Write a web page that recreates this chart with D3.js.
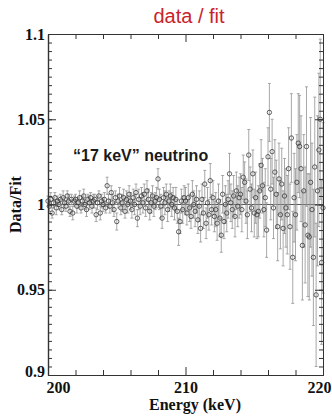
<!DOCTYPE html>
<html>
<head>
<meta charset="utf-8">
<script src="https://cdn.jsdelivr.net/npm/d3@7"></script>
<style>
  body { margin: 0; background: #fff; }
  svg { display: block; }
</style>
</head>
<body>
<svg id="chart"></svg>
<script>
// energy grid (keV)
const eStart = 200;
const eStep = 0.1;

// data / fit ratio, one value per 0.1 keV bin
const ratio = [
  1.002, 0.999, 1.003, 0.995, 1.001, 1.004, 0.998, 1.002, 1.000, 1.003,
  0.997, 1.004, 1.001, 0.999, 1.005, 1.002, 0.996, 1.003, 0.995, 1.002,
  1.003, 0.999, 1.001, 1.004, 0.998, 1.002, 1.005, 1.000, 0.997, 1.003,
  1.001, 1.004, 0.999, 1.002, 1.003, 0.994, 1.001, 1.005, 0.995, 1.002,
  1.000, 1.003, 0.998, 1.011, 1.002, 0.999, 1.007, 1.001, 0.997, 1.004,
  0.990, 1.002, 1.005, 0.998, 1.001, 1.004, 0.996, 1.003, 1.000, 1.006,
  1.002, 0.997, 1.004, 1.000, 1.007, 0.992, 1.003, 0.999, 1.005, 1.001,
  1.006, 0.998, 1.008, 1.003, 0.996, 1.001, 1.005, 0.999, 1.002, 1.004,
  1.015, 1.003, 0.999, 0.992, 1.004, 1.001, 1.006, 0.997, 1.002, 1.005,
  1.000, 1.004, 0.998, 1.003, 0.996, 0.984, 0.990, 1.002, 0.997, 1.004,
  1.002, 0.995, 1.004, 0.998, 0.993, 1.006, 1.000, 0.996, 1.003, 0.991,
  0.999, 0.986, 1.003, 0.995, 1.012, 0.989, 1.001, 0.994, 1.014, 0.997,
  1.004, 0.993, 0.997, 0.989, 1.002, 0.992, 0.982, 1.006, 0.990, 1.000,
  0.995, 1.003, 1.018, 1.001, 0.997, 1.005, 0.993, 1.008, 0.999, 1.004,
  1.006, 0.997, 1.016, 1.013, 1.002, 0.994, 1.029, 1.009, 0.998, 1.018,
  0.995, 1.004, 0.994, 0.996, 1.008, 1.023, 1.011, 0.997, 1.004, 0.985,
  1.028, 1.054, 1.009, 1.031, 0.998, 1.019, 1.006, 0.987, 1.015, 0.994,
  1.012, 0.986, 1.005, 0.998, 0.994, 1.021, 0.987, 1.039, 0.969, 1.004,
  0.994, 1.013, 1.036, 1.034, 1.021, 0.976, 1.008, 0.988, 1.034, 0.982,
  0.981, 1.013, 0.997, 0.969, 1.022, 0.947, 1.008, 1.032, 1.050, 0.966, 0.998
];

// half length of the error bars
const errs = [
  .003, .003, .004, .003, .003, .003, .004, .003, .003, .003,
  .003, .004, .003, .003, .003, .004, .003, .003, .004, .003,
  .003, .004, .003, .004, .003, .003, .004, .003, .004, .003,
  .004, .003, .004, .004, .003, .004, .004, .003, .004, .004,
  .004, .004, .003, .005, .004, .004, .004, .005, .004, .004,
  .005, .004, .005, .004, .005, .005, .004, .005, .005, .005,
  .005, .005, .005, .006, .005, .005, .006, .005, .005, .006,
  .006, .005, .006, .006, .005, .006, .006, .006, .005, .006,
  .006, .006, .007, .006, .006, .007, .006, .007, .006, .007,
  .007, .006, .007, .007, .007, .008, .007, .007, .008, .007,
  .008, .007, .008, .008, .007, .008, .008, .009, .008, .008,
  .009, .008, .009, .009, .008, .009, .009, .009, .010, .009,
  .010, .009, .010, .010, .010, .011, .010, .011, .010, .011,
  .011, .011, .012, .011, .011, .012, .012, .011, .012, .012,
  .012, .013, .013, .012, .013, .014, .015, .013, .014, .014,
  .014, .015, .014, .015, .016, .015, .016, .016, .017, .016,
  .017, .017, .018, .019, .018, .019, .020, .020, .021, .020,
  .021, .022, .022, .023, .023, .024, .025, .026, .027, .026,
  .027, .028, .029, .030, .031, .032, .033, .034, .035, .036,
  .037, .038, .039, .040, .041, .042, .044, .045, .047, .048, .050
];

const xTicks = [200, 210, 220];
const yTicks = [0.9, 0.95, 1, 1.05, 1.1];
const yTickLabels = ['0.9', '0.95', '1', '1.05', '1.1'];

const vWidth = 332;
const vHeight = 416;
const mLeft = 48, mRight = 323, mTop = 34, mBottom = 375;

const svg = d3.select('#chart')
  .attr('width', vWidth)
  .attr('height', vHeight);

const x = d3.scaleLinear().domain([200, 220]).range([mLeft, mRight]);
const y = d3.scaleLinear().domain([0.9, 1.1]).range([mBottom, mTop]);

const points = ratio.map(function (r, i) {
  return { e: eStart + i * eStep, r: r, err: errs[i] };
});

// title
svg.append('text')
  .attr('x', 189).attr('y', 23)
  .attr('text-anchor', 'middle')
  .style('font-family', 'Liberation Sans, Arial, sans-serif')
  .style('font-size', '20px')
  .style('fill', '#c8232c')
  .text('data / fit');

// reference line at 1
svg.append('line')
  .attr('x1', mLeft).attr('x2', mRight)
  .attr('y1', y(1)).attr('y2', y(1))
  .style('stroke', '#555')
  .style('stroke-width', 1);

// error bars
const bars = svg.append('g').attr('class', 'bars');
bars.selectAll('line.v')
  .data(points)
  .enter().append('line')
  .attr('class', 'v')
  .attr('x1', d => x(d.e)).attr('x2', d => x(d.e))
  .attr('y1', d => y(d.r - d.err)).attr('y2', d => y(d.r + d.err))
  .style('stroke', '#939393')
  .style('stroke-width', 0.8);

[-1, 1].forEach(function (s) {
  bars.selectAll('line.cap' + (s > 0 ? 'u' : 'd'))
    .data(points)
    .enter().append('line')
    .attr('class', 'cap' + (s > 0 ? 'u' : 'd'))
    .attr('x1', d => x(d.e) - 1.5).attr('x2', d => x(d.e) + 1.5)
    .attr('y1', d => y(d.r + s * d.err)).attr('y2', d => y(d.r + s * d.err))
    .style('stroke', '#939393')
    .style('stroke-width', 0.8);
});

// markers
svg.append('g').selectAll('circle')
  .data(points)
  .enter().append('circle')
  .attr('cx', d => x(d.e))
  .attr('cy', d => y(d.r))
  .attr('r', 2.2)
  .style('fill', 'none')
  .style('stroke', '#3a3a3a')
  .style('stroke-width', 0.8);

// frame + inward ticks
function styleAxis(g) {
  g.selectAll('path, line').style('stroke', '#333').style('stroke-width', 1);
  g.selectAll('text')
    .style('font-family', 'Liberation Serif, Times New Roman, serif')
    .style('font-weight', 'bold')
    .style('font-size', '16px')
    .style('fill', '#111');
}

const xMinor = d3.range(202, 220, 2).filter(v => v !== 210);
const yMinor = d3.range(0, 41).map(i => 0.9 + i * 0.005);

// bottom
svg.append('g')
  .attr('transform', 'translate(0,' + mBottom + ')')
  .call(d3.axisBottom(x).tickValues(xMinor).tickSize(-5).tickFormat(''))
  .call(styleAxis);
const xb = svg.append('g')
  .attr('transform', 'translate(0,' + mBottom + ')')
  .call(d3.axisBottom(x).tickValues(xTicks).tickSizeInner(-8).tickSizeOuter(0).tickPadding(4).tickFormat(d3.format('d')))
  .call(styleAxis);
xb.selectAll('text').attr('dy', '0.85em')
  .attr('dx', d => d === 200 ? 10 : (d === 220 ? -4 : 0));

// top
svg.append('g')
  .attr('transform', 'translate(0,' + mTop + ')')
  .call(d3.axisTop(x).tickValues(xMinor).tickSize(-5).tickFormat(''))
  .call(styleAxis);
svg.append('g')
  .attr('transform', 'translate(0,' + mTop + ')')
  .call(d3.axisTop(x).tickValues(xTicks).tickSizeInner(-8).tickSizeOuter(0).tickFormat(''))
  .call(styleAxis);

// left
svg.append('g')
  .attr('transform', 'translate(' + mLeft + ',0)')
  .call(d3.axisLeft(y).tickValues(yMinor).tickSize(-4).tickFormat(''))
  .call(styleAxis);
const yl = svg.append('g')
  .attr('transform', 'translate(' + mLeft + ',0)')
  .call(d3.axisLeft(y).tickValues(yTicks).tickSizeInner(-8).tickSizeOuter(0).tickPadding(3)
    .tickFormat((d, i) => yTickLabels[i]))
  .call(styleAxis);
yl.select('.domain').style('stroke-width', 1.4);
yl.selectAll('text').attr('dy', d => d === 0.9 ? '0.1em' : '0.32em');

// right
svg.append('g')
  .attr('transform', 'translate(' + mRight + ',0)')
  .call(d3.axisRight(y).tickValues(yMinor).tickSize(-4).tickFormat(''))
  .call(styleAxis);
svg.append('g')
  .attr('transform', 'translate(' + mRight + ',0)')
  .call(d3.axisRight(y).tickValues(yTicks).tickSizeInner(-8).tickSizeOuter(0).tickFormat(''))
  .call(styleAxis);

// axis titles
svg.append('text')
  .attr('x', 195).attr('y', 410)
  .attr('text-anchor', 'middle')
  .style('font-family', 'Liberation Serif, Times New Roman, serif')
  .style('font-weight', 'bold')
  .style('font-size', '16px')
  .style('fill', '#111')
  .text('Energy (keV)');

svg.append('text')
  .attr('transform', 'translate(21,' + y(1) + ')rotate(-90)')
  .attr('text-anchor', 'middle')
  .style('font-family', 'Liberation Serif, Times New Roman, serif')
  .style('font-weight', 'bold')
  .style('font-size', '16px')
  .style('fill', '#111')
  .text('Data/Fit');

// annotation
svg.append('text')
  .attr('x', 73).attr('y', 161)
  .style('font-family', 'Liberation Sans, Arial, sans-serif')
  .style('font-weight', 'bold')
  .style('font-size', '16px')
  .style('fill', '#1a1a1a')
  .text('\u201c17 keV\u201d neutrino');
</script>
</body>
</html>
